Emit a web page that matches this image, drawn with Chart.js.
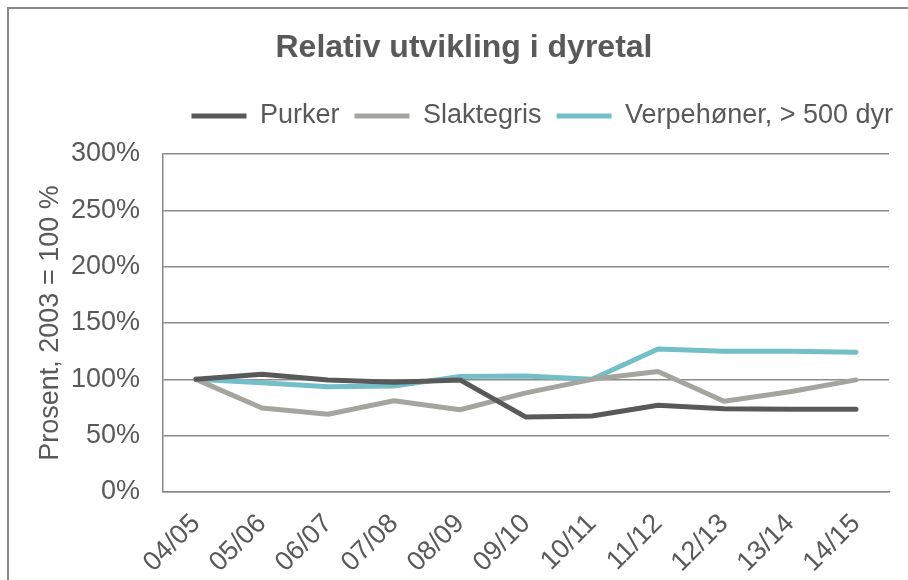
<!DOCTYPE html>
<html>
<head>
<meta charset="utf-8">
<script src="https://cdn.jsdelivr.net/npm/chart.js@4"></script>
<style>
  html, body { margin: 0; padding: 0; background: #fff; overflow: hidden; }
  #frame {
    position: absolute; left: 7px; top: 7px;
    width: 1000px; height: 1000px;
    border: 2px solid #898989;
  }
  #chart { position: absolute; left: 0; top: 0; }
</style>
</head>
<body>
<div id="frame"></div>
<canvas id="chart" width="908" height="580"></canvas>
<script>
// --- data ---
const seasons = ["04/05", "05/06", "06/07", "07/08", "08/09", "09/10", "10/11", "11/12", "12/13", "13/14", "14/15"];
const purker = [100, 104.5, 99.5, 97.5, 99.5, 66.5, 67.5, 77, 74, 73.5, 73.5];
const slaktegris = [100, 74.5, 69, 81, 73, 88, 100, 107, 80.5, 89, 99.5];
const verpehoner = [100, 97, 93.5, 94, 102.5, 103, 100, 127, 125, 125, 124];
const yTicks = [0, 50, 100, 150, 200, 250, 300];

const textColor = "#595959";
const gridColor = "#8a8a8a";
const font = "'Liberation Sans', Arial, sans-serif";

function series(label, data, color) {
  return {
    label,
    data,
    borderColor: color,
    backgroundColor: color,
    borderWidth: 5,
    borderCapStyle: "round",
    borderJoinStyle: "round",
    pointRadius: 0,
    pointHoverRadius: 0,
    tension: 0,
  };
}

new Chart(document.getElementById("chart"), {
  type: "line",
  data: {
    labels: seasons,
    datasets: [
      series("Purker", purker, "#595959"),
      series("Slaktegris", slaktegris, "#a5a5a0"),
      series("Verpehøner, > 500 dyr", verpehoner, "#72bfc8"),
    ],
  },
  options: {
    responsive: false,
    animation: false,
    layout: { padding: { left: 20, right: 0, top: 0, bottom: 0 } },
    plugins: {
      title: {
        display: true,
        text: "Relativ utvikling i dyretal",
        color: textColor,
        font: { family: font, size: 32, weight: "bold" },
        padding: { top: 29, bottom: 20 },
      },
      // empty subtitle used as a spacer between legend and plot
      subtitle: {
        display: true,
        text: "",
        font: { family: font, size: 12.2 },
        padding: 0,
      },
      legend: {
        position: "top",
        align: "end",
        weight: 1600,
        labels: {
          color: textColor,
          font: { family: font, size: 27 },
          usePointStyle: true,
          pointStyle: "line",
          pointStyleWidth: 55,
          boxWidth: 55,
          padding: 15,
        },
      },
      tooltip: { enabled: false },
    },
    scales: {
      x: {
        offset: true,
        grid: { display: false, drawTicks: false },
        border: { display: true, color: gridColor, width: 1.5 },
        ticks: {
          color: textColor,
          font: { family: font, size: 27 },
          autoSkip: false,
          minRotation: 45,
          maxRotation: 45,
          padding: 16,
        },
        afterFit: (scale) => { scale.height = 88; },
      },
      y: {
        min: 0,
        max: 300,
        afterBuildTicks: (scale) => { scale.ticks = yTicks.map((v) => ({ value: v })); },
        grid: { color: gridColor, lineWidth: 1.5, drawTicks: false },
        border: { display: true, color: gridColor, width: 1.5 },
        ticks: {
          color: textColor,
          font: { family: font, size: 27 },
          padding: 23,
          callback: (v) => v + "%",
        },
        title: {
          display: true,
          text: "Prosent, 2003 = 100 %",
          color: textColor,
          font: { family: font, size: 27 },
          padding: { top: 14, bottom: 0 },
        },
        afterFit: (scale) => { scale.width = 143; },
      },
      // blank right-hand strip so the plot ends where the reference does
      yRight: {
        position: "right",
        grid: { display: false },
        border: { display: false },
        ticks: { display: false },
        afterFit: (scale) => { scale.width = 19; },
      },
    },
  },
});
</script>
</body>
</html>
